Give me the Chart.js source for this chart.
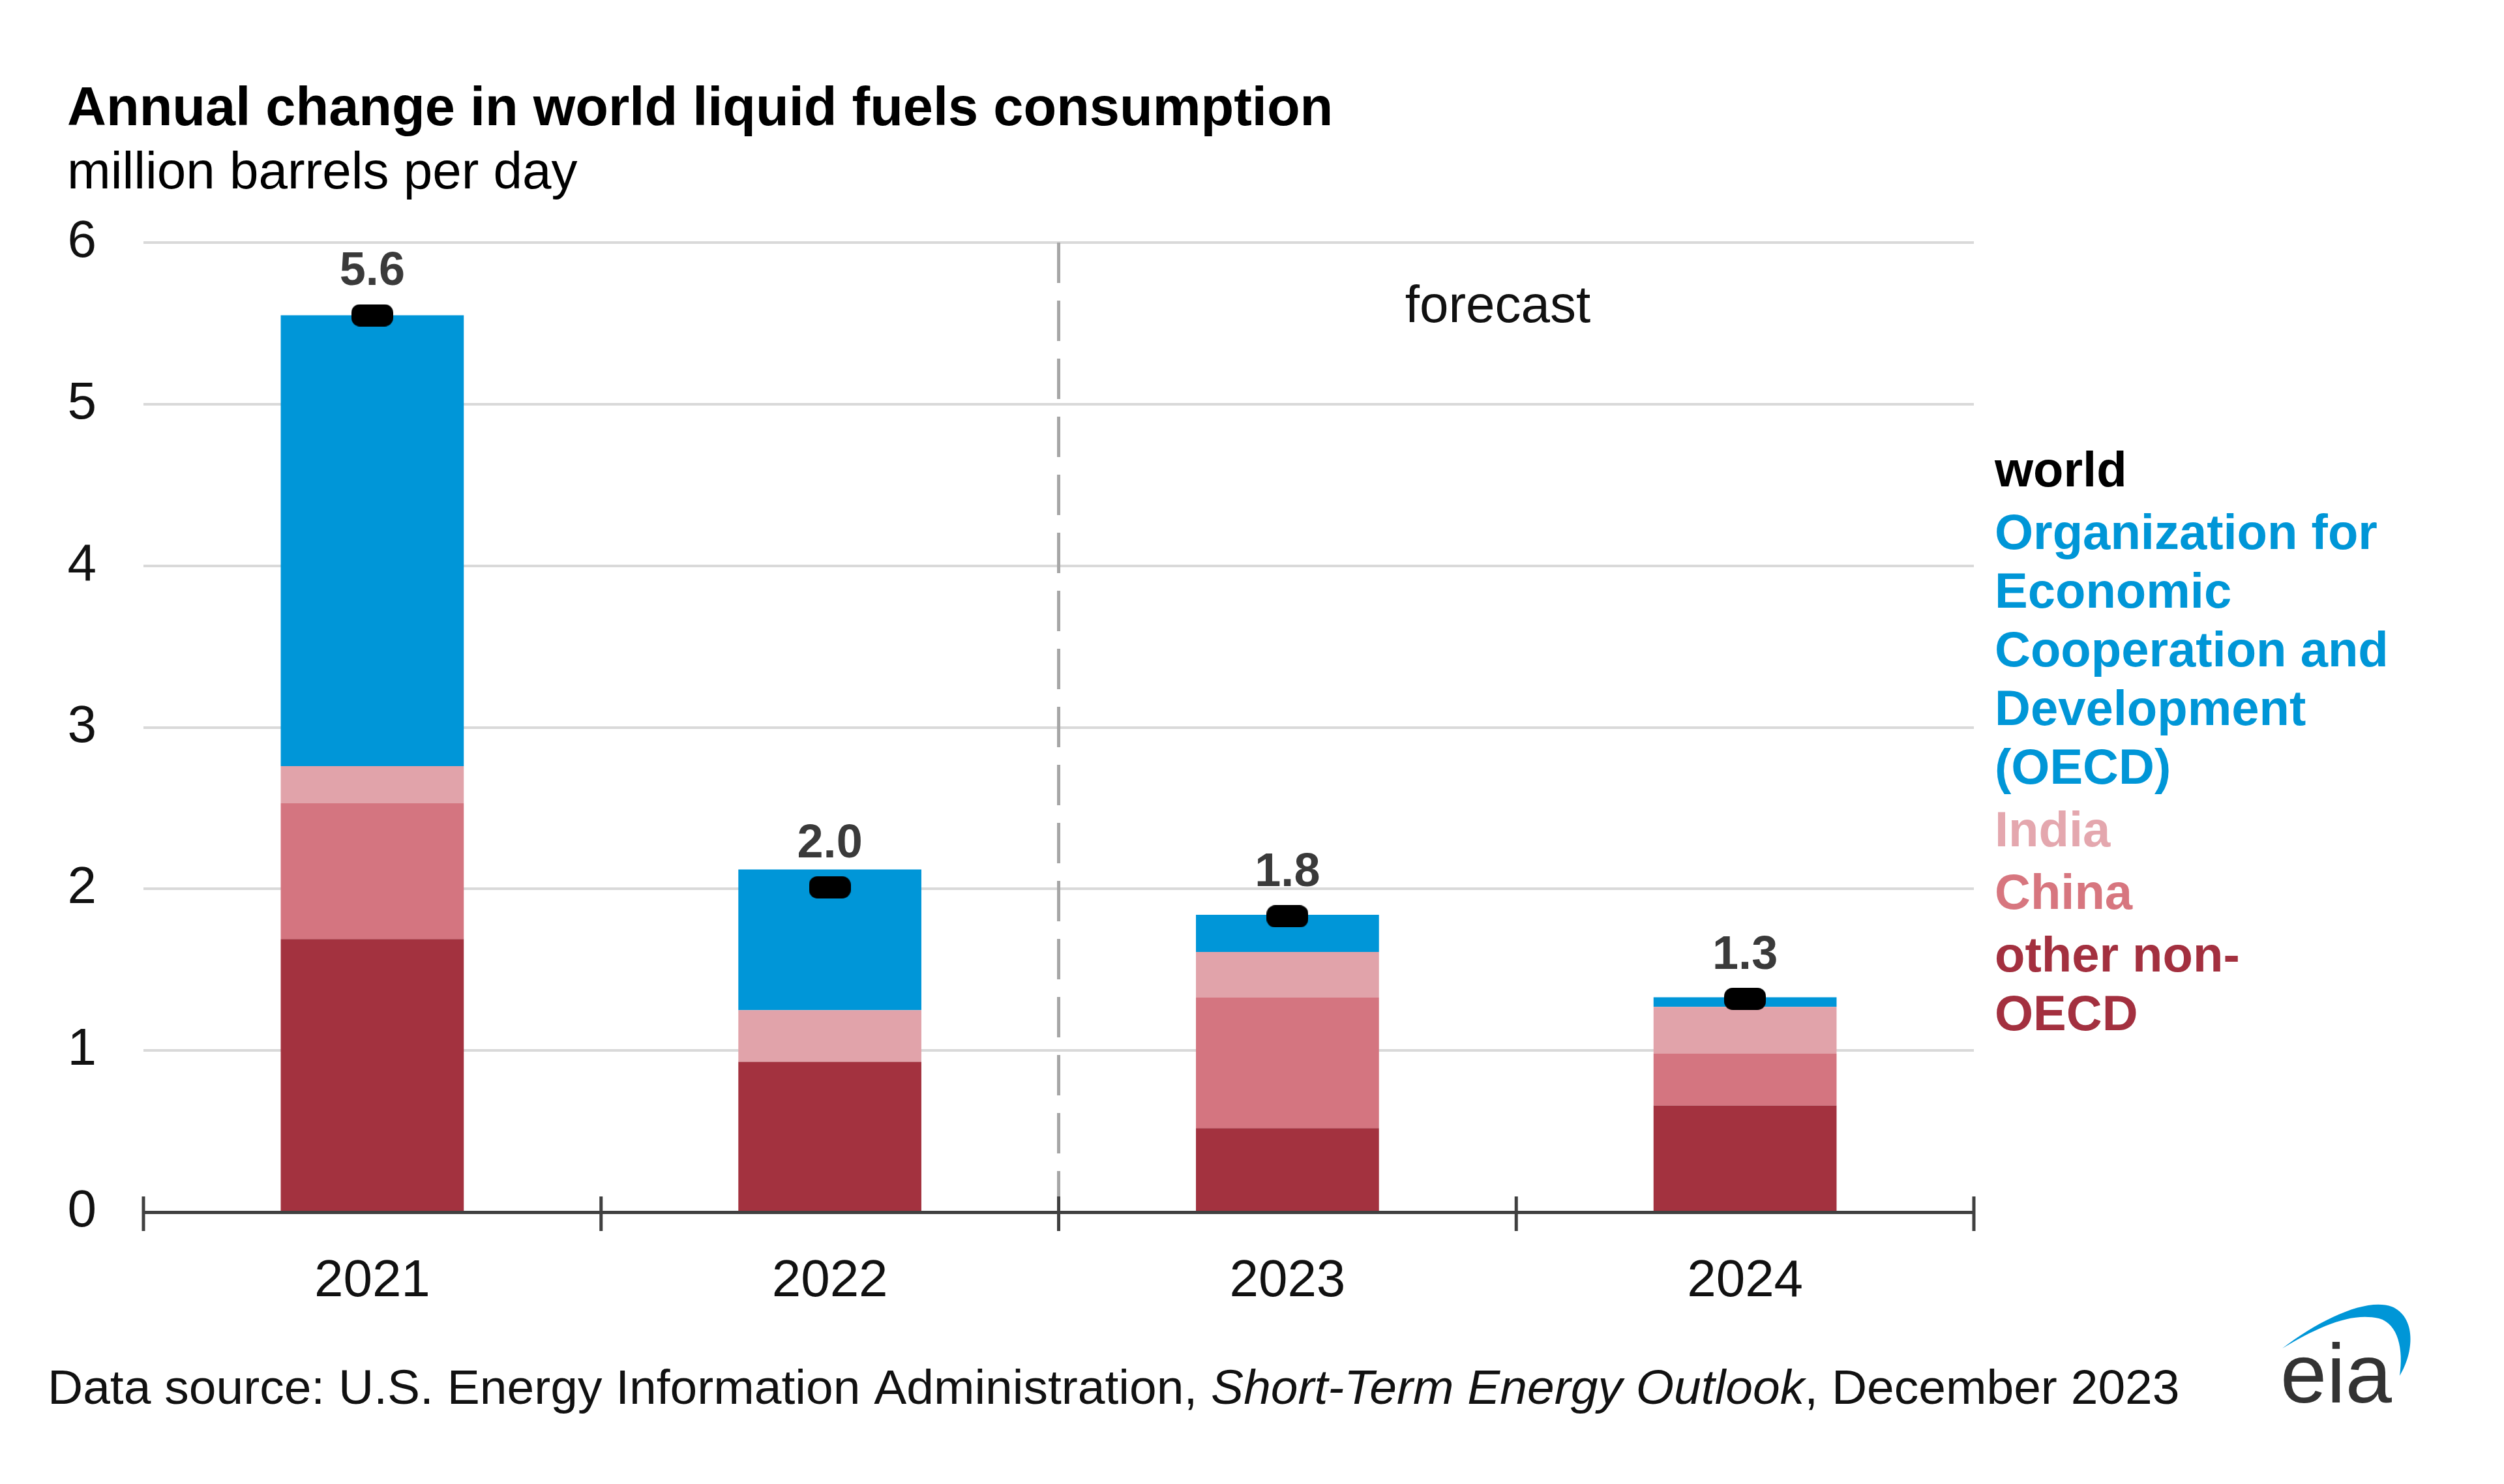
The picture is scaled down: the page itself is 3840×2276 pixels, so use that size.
<!DOCTYPE html>
<html>
<head>
<meta charset="utf-8">
<script src="https://cdn.jsdelivr.net/npm/chart.js@4"></script>
<style>
  body { margin: 0; background: #fff; }
  #wrap { width: 3840px; height: 2276px; position: relative; }
</style>
</head>
<body>
<div id="wrap"><canvas id="myChart"></canvas></div>
<script>
    // data (million barrels per day)
    const years = ['2021', '2022', '2023', '2024']
    const otherNonOecd = [1.69, 0.93, 0.52, 0.66]
    const china = [0.84, -0.14, 0.81, 0.32]
    const india = [0.23, 0.32, 0.28, 0.29]
    const oecd = [2.79, 0.87, 0.23, 0.06]
    const world = [5.55, 2.01, 1.83, 1.32]
    const worldLabels = ['5.6', '2.0', '1.8', '1.3']
    const yTicks = [0, 1, 2, 3, 4, 5, 6]

    const FONT = "'Liberation Sans', Arial, sans-serif"

    // black pill marker for the world total
    function makeMarker() {
      var c = document.createElement('canvas')
      c.width = 64
      c.height = 34
      var g = c.getContext('2d')
      g.fillStyle = '#000'
      g.beginPath()
      g.roundRect(0, 0, 64, 34, 13)
      g.fill()
      return c
    }

    // everything Chart.js doesn't draw by itself
    const eiaExtras = {
      id: 'eiaExtras',
      beforeDatasetsDraw(chart) {
        var ctx = chart.ctx
        var x = chart.scales.x
        var area = chart.chartArea
        var half = (x.getPixelForValue(1) - x.getPixelForValue(0)) / 2
        var split = x.getPixelForValue(1) + half

        ctx.save()
        ctx.strokeStyle = '#a6a6a6'
        ctx.lineWidth = 5
        ctx.setLineDash([62, 27])
        ctx.beginPath()
        ctx.moveTo(split, area.top)
        ctx.lineTo(split, area.bottom)
        ctx.stroke()
        ctx.restore()

        ctx.save()
        ctx.font = '80px ' + FONT
        ctx.fillStyle = '#111'
        ctx.textAlign = 'center'
        ctx.textBaseline = 'middle'
        ctx.fillText('forecast', 2297, 472)
        ctx.restore()
      },
      afterDraw(chart) {
        var ctx = chart.ctx
        var x = chart.scales.x
        var area = chart.chartArea
        var half = (x.getPixelForValue(1) - x.getPixelForValue(0)) / 2

        // tick marks crossing the axis at category boundaries
        ctx.save()
        ctx.strokeStyle = '#404040'
        ctx.lineWidth = 5
        for (var i = 0; i <= years.length; i++) {
          var bx = x.getPixelForValue(0) - half + i * 2 * half
          ctx.beginPath()
          ctx.moveTo(bx, area.bottom - 24)
          ctx.lineTo(bx, area.bottom + 29)
          ctx.stroke()
        }
        ctx.restore()

        // world value labels above the markers
        var meta = chart.getDatasetMeta(4)
        ctx.save()
        ctx.font = 'bold 72px ' + FONT
        ctx.fillStyle = '#3a3a3a'
        ctx.textAlign = 'center'
        ctx.textBaseline = 'middle'
        meta.data.forEach(function (pt, i) {
          ctx.fillText(worldLabels[i], pt.x, pt.y - 66)
        })
        ctx.restore()

        // title + units
        ctx.save()
        ctx.fillStyle = '#000'
        ctx.textBaseline = 'middle'
        ctx.font = 'bold 83px ' + FONT
        ctx.fillText('Annual change in world liquid fuels consumption', 103, 169)
        ctx.font = '80px ' + FONT
        ctx.fillText('million barrels per day', 103, 267)
        ctx.restore()

        // legend on the right
        var legend = [
          { lines: ['world'], color: '#000000' },
          { lines: ['Organization for', 'Economic', 'Cooperation and', 'Development', '(OECD)'], color: '#0096d7' },
          { lines: ['India'], color: '#e4a7ae' },
          { lines: ['China'], color: '#d7767f' },
          { lines: ['other non-', 'OECD'], color: '#a3303f' }
        ]
        ctx.save()
        ctx.font = 'bold 76px ' + FONT
        ctx.textBaseline = 'middle'
        var ly = 725
        legend.forEach(function (item) {
          ctx.fillStyle = item.color
          item.lines.forEach(function (t) {
            ctx.fillText(t, 3059, ly)
            ly += 90
          })
          ly += 6
        })
        ctx.restore()

        // source line, with the italic report name
        ctx.save()
        ctx.fillStyle = '#111'
        ctx.textBaseline = 'middle'
        var parts = [
          ['Data source: U.S. Energy Information Administration, ', ''],
          ['Short-Term Energy Outlook', 'italic '],
          [', December 2023', '']
        ]
        var sx = 73
        parts.forEach(function (p) {
          ctx.font = p[1] + '75px ' + FONT
          ctx.fillText(p[0], sx, 2132)
          sx += ctx.measureText(p[0]).width
        })
        ctx.restore()

        // eia logo
        ctx.save()
        ctx.fillStyle = '#0096d7'
        ctx.beginPath()
        ctx.moveTo(3500, 2068)
        ctx.bezierCurveTo(3560, 2022, 3630, 1990, 3668, 2004)
        ctx.bezierCurveTo(3706, 2020, 3702, 2075, 3680, 2110)
        ctx.bezierCurveTo(3686, 2070, 3678, 2030, 3648, 2022)
        ctx.bezierCurveTo(3605, 2012, 3555, 2035, 3500, 2068)
        ctx.fill()
        ctx.fillStyle = '#333333'
        ctx.font = '128px ' + FONT
        ctx.textBaseline = 'alphabetic'
        ctx.fillText('eia', 3497, 2151)
        ctx.restore()
      }
    }

    function drawChart() {
      var ctx = document.getElementById('myChart').getContext('2d')
      var chart = new Chart(ctx, {
        type: 'bar',
        data: {
          labels: years,
          datasets: [
            { label: 'other non-OECD', data: otherNonOecd, backgroundColor: '#a3323f', order: 1 },
            { label: 'China', data: china, backgroundColor: '#d47580', order: 1 },
            { label: 'India', data: india, backgroundColor: '#e1a3aa', order: 1 },
            { label: 'OECD', data: oecd, backgroundColor: '#0096d8', order: 1 },
            {
              type: 'line',
              label: 'world',
              data: world,
              stack: 'world',
              showLine: false,
              pointStyle: makeMarker(),
              order: 0
            }
          ]
        },
        options: {
          responsive: true,
          maintainAspectRatio: false,
          animation: false,
          layout: { padding: { left: 0, right: 813, top: 372, bottom: 0 } },
          plugins: {
            legend: { display: false },
            tooltip: { enabled: false },
            title: { display: false }
          },
          datasets: {
            bar: { categoryPercentage: 0.4, barPercentage: 1 }
          },
          scales: {
            x: {
              stacked: true,
              grid: { display: false, drawTicks: false },
              border: { display: true, color: '#404040', width: 5 },
              ticks: { color: '#111', font: { family: FONT, size: 80 }, padding: 59 },
              afterFit: function (s) { s.height = 417 }
            },
            y: {
              stacked: true,
              min: 0,
              max: 6,
              afterBuildTicks: function (s) { s.ticks = yTicks.map(function (v) { return { value: v } }) },
              grid: {
                drawTicks: false,
                lineWidth: 4,
                color: function (c) { return c.tick && c.tick.value === 0 ? 'rgba(0,0,0,0)' : '#d9d9d9' }
              },
              border: { display: false },
              ticks: { color: '#111', font: { family: FONT, size: 80 }, padding: 72 },
              afterFit: function (s) { s.width = 220 }
            }
          }
        },
        plugins: [eiaExtras]
      })
    }

    drawChart()
</script>
</body>
</html>
